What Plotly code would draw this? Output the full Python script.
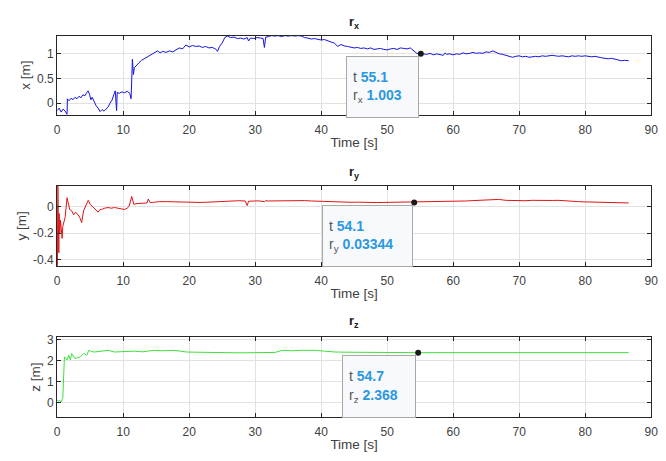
import plotly.graph_objects as go

# ---------------- data ----------------
rx_t = [0.0, 0.3, 0.6, 0.9, 1.2, 1.5, 1.55, 1.8, 2.1, 2.4,
        2.7, 3.0, 3.3, 3.6, 3.9, 4.2, 4.5, 4.7, 4.9, 5.1,
        5.3, 5.6, 5.9, 6.2, 6.5, 6.8, 7.1, 7.4, 7.7, 8.0,
        8.3, 8.6, 8.8, 9.0, 9.1, 9.4, 9.8, 10.2, 10.6, 11.0,
        11.2, 11.4, 11.55, 11.7, 12.0, 12.4, 12.8, 13.2, 13.6, 14.0,
        14.4, 14.8, 15.2, 15.6, 16.0, 16.5, 17.0, 17.5, 18.0, 18.5,
        19.0, 19.5, 20.0, 20.5, 21.0, 21.5, 22.0, 22.5, 23.0, 23.5,
        24.0, 24.3, 24.6, 25.0, 25.4, 25.8, 26.3, 26.8, 27.3, 27.8,
        28.3, 28.8, 29.0, 29.3, 29.8, 30.3, 30.8, 31.2, 31.4, 31.6,
        32.0, 32.5, 33.0, 33.5, 34.0, 34.5, 35.0, 35.5, 36.0, 36.5,
        37.0, 37.5, 38.0, 38.5, 39.0, 39.5, 40.0, 40.5, 41.0, 41.5,
        42.0, 42.5, 43.0, 43.5, 44.0, 44.5, 45.0, 45.5, 46.0, 46.5,
        47.0, 47.5, 48.0, 48.5, 49.0, 49.5, 50.0, 50.5, 51.0, 51.5,
        52.0, 52.5, 53.0, 53.5, 54.0, 54.5, 55.1, 55.6, 56.0, 56.5,
        57.0, 57.5, 58.0, 58.5, 58.8, 59.0, 59.5, 60.0, 60.5, 61.0,
        61.5, 62.0, 62.5, 63.0, 63.5, 64.0, 64.5, 65.0, 65.5, 66.0,
        66.5, 67.0, 67.5, 68.0, 68.5, 69.0, 69.5, 70.0, 70.5, 71.0,
        71.5, 72.0, 72.5, 73.0, 73.5, 74.0, 74.5, 75.0, 75.5, 76.0,
        76.5, 77.0, 77.5, 78.0, 78.5, 79.0, 79.5, 80.0, 80.5, 81.0,
        81.5, 82.0, 82.5, 83.0, 83.5, 84.0, 84.5, 85.0, 85.5, 86.0,
        86.6]
rx_v = [-0.15, -0.10, -0.18, -0.12, -0.16, -0.23, 0.09, 0.05, 0.10, 0.07,
        0.12, 0.09, 0.14, 0.11, 0.17, 0.15, 0.22, 0.25, 0.18, 0.07,
        0.12, 0.02, -0.05, -0.10, -0.17, -0.13, -0.16, -0.12, -0.08, 0.00,
        0.06, 0.18, 0.25, -0.15, 0.22, 0.20, 0.23, 0.21, 0.24, 0.20,
        0.09, 0.89, 0.58, 0.72, 0.77, 0.82, 0.87, 0.90, 0.93, 0.97,
        0.99, 1.03, 1.06, 1.02, 1.05, 1.03, 1.06, 1.04, 1.08, 1.12,
        1.10, 1.18, 1.14, 1.17, 1.15, 1.16, 1.13, 1.15, 1.12, 1.13,
        1.10, 1.05, 1.15, 1.22, 1.33, 1.36, 1.33, 1.34, 1.31, 1.32,
        1.30, 1.33, 1.26, 1.32, 1.31, 1.33, 1.32, 1.31, 1.13, 1.34,
        1.35, 1.37, 1.36, 1.37, 1.35, 1.37, 1.36, 1.37, 1.36, 1.37,
        1.36, 1.33, 1.32, 1.30, 1.31, 1.29, 1.28, 1.29, 1.26, 1.24,
        1.22, 1.15, 1.19, 1.16, 1.15, 1.13, 1.12, 1.13, 1.11, 1.12,
        1.10, 1.12, 1.09, 1.10, 1.11, 1.09, 1.08, 1.10, 1.11, 1.09,
        1.12, 1.11, 1.10, 1.12, 1.06, 1.01, 1.003, 1.00, 0.99, 1.01,
        0.98, 1.00, 0.99, 0.97, 1.02, 0.99, 1.00, 0.98, 1.00, 0.99,
        1.02, 1.00, 1.01, 1.03, 1.01, 1.02, 1.01, 1.04, 1.03, 1.06,
        1.03, 1.00, 0.99, 0.97, 0.95, 0.93, 0.95, 0.96, 0.94, 0.95,
        0.93, 0.94, 0.95, 0.94, 0.96, 0.95, 0.96, 0.97, 0.96, 0.95,
        0.96, 0.95, 0.94, 0.96, 0.95, 0.96, 0.95, 0.96, 0.95, 0.94,
        0.95, 0.93, 0.92, 0.91, 0.90, 0.91, 0.89, 0.88, 0.86, 0.87,
        0.86]

ry_t = [0.0, 0.05, 0.1, 0.15, 0.2, 0.25, 0.3, 0.4, 0.5, 0.65,
        0.75, 0.85, 1.0, 1.2, 1.5, 1.7, 1.9, 2.2, 2.5, 2.8,
        3.0, 3.3, 3.5, 3.7, 4.0, 4.3, 4.7, 5.0, 5.2, 5.6,
        6.0, 6.2, 6.5, 6.7, 7.2, 7.7, 8.2, 8.7, 9.2, 9.7,
        10.2, 10.6, 10.9, 11.3, 11.6, 12.1, 12.6, 13.1, 13.6, 13.8,
        14.1, 14.6, 15.5, 16.6, 17.5, 18.5, 19.6, 20.5, 21.5, 22.5,
        23.5, 24.5, 25.5, 26.6, 27.5, 28.5, 28.8, 29.0, 29.5, 30.5,
        31.4, 31.6, 32.0, 33.0, 34.0, 35.0, 36.6, 37.5, 38.5, 39.5,
        40.6, 41.5, 42.5, 43.5, 44.5, 45.5, 46.5, 47.5, 48.5, 49.5,
        50.5, 51.5, 52.5, 53.5, 54.1, 55.0, 56.0, 57.0, 58.0, 59.0,
        60.0, 61.0, 62.0, 63.0, 64.0, 65.0, 66.0, 66.9, 68.0, 69.0,
        70.0, 70.9, 72.0, 73.0, 74.0, 75.0, 75.9, 77.0, 78.0, 79.0,
        80.0, 80.9, 82.0, 83.0, 84.0, 85.0, 86.0, 86.6]
ry_v = [0.00, -0.45, 0.16, -0.30, 0.10, -0.35, -0.05, -0.20, -0.10, -0.17,
        -0.24, -0.15, -0.12, -0.08, 0.07, 0.01, -0.02, -0.03, -0.06, -0.04,
        -0.05, -0.07, -0.09, -0.12, -0.03, 0.01, 0.05, 0.02, 0.01, -0.01,
        -0.03, -0.04, -0.02, -0.02, -0.01, -0.005, -0.01, -0.005, -0.01, -0.015,
        -0.02, -0.01, 0.005, 0.08, 0.02, 0.025, 0.028, 0.03, 0.03, 0.06,
        0.032, 0.035, 0.04, 0.04, 0.038, 0.036, 0.035, 0.033, 0.034, 0.035,
        0.038, 0.042, 0.046, 0.05, 0.047, 0.045, 0.01, 0.043, 0.045, 0.046,
        0.04, 0.047, 0.045, 0.046, 0.048, 0.05, 0.05, 0.048, 0.045, 0.043,
        0.04, 0.038, 0.04, 0.037, 0.035, 0.036, 0.034, 0.035, 0.033, 0.034,
        0.035, 0.033, 0.034, 0.033, 0.03344, 0.035, 0.036, 0.038, 0.037, 0.04,
        0.042, 0.04, 0.045, 0.048, 0.05, 0.052, 0.055, 0.057, 0.05, 0.048,
        0.045, 0.047, 0.05, 0.048, 0.046, 0.049, 0.05, 0.045, 0.043, 0.04,
        0.038, 0.037, 0.036, 0.038, 0.035, 0.033, 0.032, 0.03]

rz_t = [0.0, 0.2, 0.4, 0.6, 0.85, 1.1, 1.5, 1.75, 2.0, 2.2,
        2.7, 3.1, 3.5, 4.0, 4.5, 4.8, 5.2, 5.7, 6.5, 7.7,
        8.7, 10.0, 11.6, 13.0, 14.6, 16.0, 17.6, 18.5, 19.6, 21.0,
        22.5, 24.1, 26.0, 28.0, 30.0, 31.6, 33.0, 34.1, 35.5, 37.0,
        39.1, 40.5, 42.1, 44.0, 46.0, 48.0, 50.0, 52.0, 54.7, 57.0,
        60.0, 63.0, 66.0, 69.0, 72.0, 75.0, 78.0, 81.0, 84.0, 86.6]
rz_v = [0.13, 0.05, 0.10, 0.02, 0.20, 2.17, 2.02, 2.25, 2.02, 2.33,
        2.09, 2.12, 2.17, 2.33, 2.25, 2.48, 2.42, 2.40, 2.44, 2.48,
        2.40, 2.42, 2.44, 2.41, 2.48, 2.46, 2.48, 2.45, 2.40, 2.39,
        2.38, 2.37, 2.37, 2.36, 2.37, 2.37, 2.38, 2.48, 2.46, 2.48,
        2.48, 2.44, 2.40, 2.39, 2.38, 2.37, 2.37, 2.37, 2.368, 2.37,
        2.37, 2.375, 2.37, 2.37, 2.37, 2.37, 2.37, 2.37, 2.37, 2.37]

# data tips (time, value, label)
tip_t = [55.1, 54.1, 54.7]
tip_v = [1.003, 0.03344, 2.368]
tip_txt_t = ["55.1", "54.1", "54.7"]
tip_txt_v = ["1.003", "0.03344", "2.368"]

x_ticks = [0, 10, 20, 30, 40, 50, 60, 70, 80, 90]
y1_ticks = [0, 0.5, 1]
y1_text = ["0", "0.5", "1"]
y2_ticks = [-0.4, -0.2, 0]
y2_text = ["-0.4", "-0.2", "0"]
y3_ticks = [0, 1, 2, 3]
y3_text = ["0", "1", "2", "3"]

titles = ["r<sub>x</sub>", "r<sub>y</sub>", "r<sub>z</sub>"]
y_titles = ["x [m]", "y [m]", "z [m]"]
x_title = "Time [s]"
sub = ["x", "y", "z"]

# ---------------- figure ----------------
W, H = 666, 461
X0, X1 = 55, 658
panels = [(31, 111), (183.3, 264.3), (336.7, 417.3)]
yranges = [[-0.23, 1.37], [-0.45, 0.16], [-0.69, 3.1]]
colors = ["#1414e0", "#e01414", "#3ee03e"]
FONT = "Liberation Sans, Arial, sans-serif"
TXT = "#404040"

fig = go.Figure()
series = [(rx_t, rx_v), (ry_t, ry_v), (rz_t, rz_v)]
for i, (t, v) in enumerate(series):
    ax = "" if i == 0 else str(i + 1)
    fig.add_trace(go.Scatter(x=t, y=v, mode="lines",
                             line=dict(color=colors[i], width=1),
                             xaxis="x" + ax, yaxis="y" + ax, showlegend=False))
    fig.add_trace(go.Scatter(x=[tip_t[i]], y=[tip_v[i]], mode="markers",
                             marker=dict(color="#1a1a1a", size=6),
                             xaxis="x" + ax, yaxis="y" + ax, showlegend=False))

xd = [X0 / W, X1 / W]
common_axis = dict(showline=True, linecolor="#262626", linewidth=1, mirror="ticks",
                   ticks="inside", ticklen=4, tickcolor="#262626",
                   showgrid=True, gridcolor="#e2e2e2", gridwidth=1, zeroline=False,
                   tickfont=dict(family=FONT, size=12, color=TXT))
ytv = [(y1_ticks, y1_text), (y2_ticks, y2_text), (y3_ticks, y3_text)]
layout = {}
for i, (top, bot) in enumerate(panels):
    ax = "" if i == 0 else str(i + 1)
    yd = [1 - bot / H, 1 - top / H]
    layout["xaxis" + ax] = dict(common_axis, domain=xd, range=[0, 90],
                                tickvals=x_ticks, anchor="y" + ax,
                                ticklabelstandoff=4,
                                title=dict(text=x_title, standoff=1,
                                           font=dict(family=FONT, size=13.5, color=TXT)))
    layout["yaxis" + ax] = dict(common_axis, domain=yd, range=yranges[i],
                                tickvals=ytv[i][0], ticktext=ytv[i][1],
                                anchor="x" + ax,
                                title=dict(text=y_titles[i], standoff=3,
                                           font=dict(family=FONT, size=13.5, color=TXT)))

ann = []
title_y = [18, 170, 321]
xc = (X0 + X1) / 2 / W
for i, (top, bot) in enumerate(panels):
    ann.append(dict(text="<b>" + titles[i] + "</b>", xref="paper", yref="paper",
                    x=xc, y=1 - title_y[i] / H, xanchor="center", yanchor="middle",
                    showarrow=False, font=dict(family=FONT, size=13, color="#1a1a1a")))

tip_box = [(73, 62, -2), (91, 62, -1), (74, 63, -2)]
for i in range(3):
    ax = "" if i == 0 else str(i + 1)
    bw, bh, xs = tip_box[i]
    txt = ("t <span style='color:#2b98e0'><b>" + tip_txt_t[i] + "</b></span><br>"
           "r<sub>" + sub[i] + "</sub> <span style='color:#2b98e0'><b>" + tip_txt_v[i] + "</b></span>")
    ann.append(dict(text=txt, xref="x" + ax, yref="y" + ax, x=tip_t[i], y=tip_v[i],
                    xanchor="right", yanchor="top", xshift=xs, yshift=-2,
                    showarrow=False, align="left", valign="middle",
                    width=bw - 14, height=bh - 14, borderpad=6, borderwidth=1,
                    bordercolor="#a8a8a8", bgcolor="#f8f9fc",
                    font=dict(family=FONT, size=14, color="#555555")))

fig.update_layout(width=W, height=H, margin=dict(l=0, r=0, t=0, b=0),
                  paper_bgcolor="white", plot_bgcolor="white",
                  annotations=ann, **layout)

fig.write_html("out.html", config={"displayModeBar": False},
               post_script="document.body.style.margin='0';document.body.style.overflow='hidden';")
